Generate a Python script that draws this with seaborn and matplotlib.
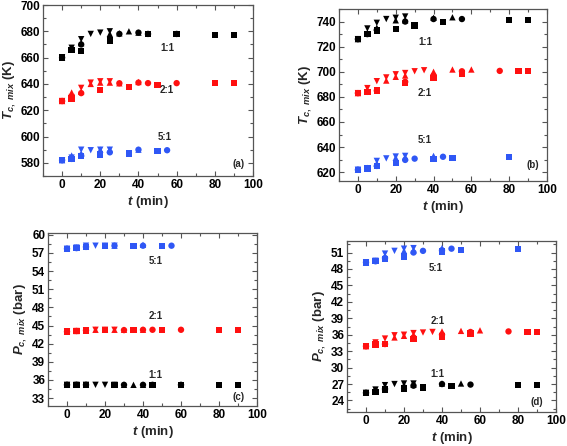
"""
plot.py
-------
Critical temperature / pressure of the mixture vs. time for three ratios.
Four panels (a)-(d), four runs per ratio drawn with different markers.
"""

import pandas as pd
import matplotlib.pyplot as plt
import matplotlib.ticker as mticker
import seaborn as sns

sns.set_theme(style="ticks")
plt.rcParams.update({
    "font.family": ["Liberation Sans", "DejaVu Sans"],
    "font.weight": "bold",
    "font.size": 7.5,
    "mathtext.fontset": "custom",
    "mathtext.it": "Liberation Sans:italic:bold",
    "mathtext.rm": "Liberation Sans:bold",
    "mathtext.bf": "Liberation Sans:bold",
})

RATIOS = ["1:1", "2:1", "5:1"]
RATIO_COLORS = {"1:1": "black", "2:1": "#ff1010", "5:1": "#2f57f5"}
RUN_MARKERS = {"sq": "s", "ci": "o", "up": "^", "dn": "v"}

# ─── Panel (a): Tc,mix (K) ────────────────────────────────────────────────────
a11_sq = [(0, 660), (5, 666), (10, 665), (25, 673), (45, 678), (60, 678), (80, 677.3), (90, 677.3)]
a11_ci = [(0, 660), (5, 666), (10, 670), (30, 678), (40, 679), (45, 678), (60, 678)]
a11_up = [(0, 660), (5, 667), (10, 671), (25, 678), (30, 678.5), (35, 680), (40, 679)]
a11_dn = [(0, 660), (5, 667.5), (10, 674), (15, 678), (20, 679), (25, 680)]
a21_sq = [(0, 627), (5, 629), (20, 635.6), (35, 637.6), (50, 639), (80, 640.6), (90, 640.6)]
a21_ci = [(0, 627), (5, 629), (10, 633), (30, 640.5), (40, 641), (45, 640.6), (60, 640.6)]
a21_up = [(0, 627), (5, 633.5), (10, 634), (15, 640), (20, 641), (25, 641), (30, 640.5), (40, 641.5)]
a21_dn = [(0, 627), (5, 630), (10, 637), (15, 641), (20, 642), (25, 642)]
a51_sq = [(0, 582), (5, 583), (10, 585), (20, 586.3), (35, 587), (50, 589)]
a51_ci = [(0, 582), (5, 583), (10, 585.5), (25, 588), (40, 590), (55, 589.6)]
a51_up = [(0, 582), (5, 585.6), (10, 587), (20, 590), (25, 590), (40, 590)]
a51_dn = [(0, 582), (5, 584), (10, 590), (15, 589.6), (20, 590), (25, 590)]

# ─── Panel (b): Tc,mix (K) ────────────────────────────────────────────────────
b11_sq = [(0, 726), (5, 730), (10, 733), (20, 734), (30, 737), (45, 739.5), (80, 741), (90, 741)]
b11_ci = [(0, 726), (5, 730), (10, 733.4), (25, 740), (40, 742), (55, 742)]
b11_up = [(0, 726), (5, 731), (10, 735), (20, 741), (25, 741), (40, 743), (50, 743.4)]
b11_dn = [(0, 726), (5, 734.5), (10, 739), (15, 742), (20, 743), (25, 744)]
b21_sq = [(0, 683), (5, 684), (10, 685), (25, 691), (40, 695), (55, 698.6), (85, 700.4), (90, 700.4)]
b21_ci = [(0, 683), (5, 684), (10, 685), (25, 692), (40, 697), (55, 700.4), (75, 700.7)]
b21_up = [(0, 683), (5, 685), (15, 693), (20, 696), (25, 697), (40, 700), (50, 701.8), (60, 701.8)]
b21_dn = [(0, 683), (5, 687), (10, 692.5), (15, 695.5), (20, 698), (25, 699), (30, 700.4), (35, 701.2)]
b51_sq = [(0, 622), (5, 623), (10, 625), (20, 627.4), (40, 630.5), (50, 631.5), (80, 632)]
b51_ci = [(0, 622), (5, 623), (10, 625), (25, 629.8), (30, 630.8), (45, 632.3)]
b51_up = [(0, 622), (5, 623.5), (10, 627), (20, 631.5), (25, 632), (40, 633)]
b51_dn = [(0, 622), (5, 623), (10, 629), (15, 631), (20, 632.5), (25, 633)]

# ─── Panel (c): Pc,mix (bar) ──────────────────────────────────────────────────
c11_sq = [(0, 35.2), (5, 35.2), (10, 35.2), (25, 35.2), (45, 35.2), (60, 35.2), (80, 35.2), (90, 35.2)]
c11_ci = [(0, 35.2), (5, 35.2), (10, 35.2), (30, 35.2), (40, 35.2), (45, 35.2), (60, 35.2)]
c11_up = [(0, 35.2), (5, 35.2), (10, 35.2), (25, 35.2), (30, 35.2), (35, 35.2), (40, 35.2)]
c11_dn = [(0, 35.2), (5, 35.2), (10, 35.2), (15, 35.2), (20, 35.2), (25, 35.2)]
c21_sq = [(0, 44.0), (5, 44.1), (10, 44.2), (20, 44.25), (35, 44.25), (50, 44.3), (80, 44.3), (90, 44.3)]
c21_ci = [(0, 44.0), (5, 44.1), (10, 44.2), (30, 44.25), (40, 44.3), (45, 44.3), (60, 44.3)]
c21_up = [(0, 44.0), (5, 44.1), (10, 44.2), (15, 44.3), (20, 44.3), (25, 44.3), (30, 44.3), (40, 44.3)]
c21_dn = [(0, 44.0), (5, 44.1), (10, 44.2), (15, 44.3), (20, 44.3), (25, 44.3)]
c51_sq = [(0, 57.7), (5, 57.8), (10, 58.0), (20, 58.1), (35, 58.1), (50, 58.2)]
c51_ci = [(0, 57.7), (5, 57.8), (10, 58.0), (25, 58.2), (40, 58.2), (55, 58.2)]
c51_up = [(0, 57.7), (5, 57.9), (10, 58.1), (20, 58.2), (25, 58.2), (40, 58.35)]
c51_dn = [(0, 57.7), (5, 57.9), (10, 58.2), (15, 58.2), (20, 58.2), (25, 58.2)]

# ─── Panel (d): Pc,mix (bar) ──────────────────────────────────────────────────
d11_sq = [(0, 25.4), (5, 25.6), (10, 26.0), (20, 26.2), (30, 26.4), (45, 26.7), (80, 26.8), (90, 26.8)]
d11_ci = [(0, 25.4), (5, 25.7), (10, 26.1), (25, 26.7), (40, 27.0), (55, 26.9)]
d11_up = [(0, 25.4), (5, 25.8), (10, 26.4), (20, 26.8), (25, 26.9), (40, 27.1), (50, 27.1)]
d11_dn = [(0, 25.4), (5, 26.0), (10, 26.8), (15, 27.0), (20, 27.1), (25, 27.1)]
d21_sq = [(0, 33.9), (5, 34.2), (10, 34.3), (25, 35.2), (40, 35.7), (55, 36.2), (85, 36.5), (90, 36.5)]
d21_ci = [(0, 33.9), (5, 34.2), (10, 34.3), (25, 35.5), (40, 36.0), (55, 36.5), (75, 36.6)]
d21_up = [(0, 33.9), (5, 34.4), (15, 35.5), (20, 35.8), (25, 35.9), (40, 36.6), (50, 36.7), (60, 36.8)]
d21_dn = [(0, 33.9), (5, 34.6), (10, 35.3), (15, 35.9), (20, 36.0), (25, 36.3), (30, 36.4), (35, 36.5)]
d51_sq = [(0, 49.2), (5, 49.4), (10, 49.8), (20, 50.3), (40, 51.2), (50, 51.4), (80, 51.6)]
d51_ci = [(0, 49.2), (5, 49.4), (10, 50.0), (25, 51.0), (30, 51.3), (40, 51.4), (45, 51.7)]
d51_up = [(0, 49.2), (5, 49.5), (10, 50.3), (20, 51.3), (25, 51.4), (40, 51.8)]
d51_dn = [(0, 49.2), (5, 49.5), (10, 50.8), (15, 51.3), (20, 51.7), (25, 51.8)]

# ratio labels placed in data coordinates (t, value)
a_labels = {"1:1": (55, 667.5), "2:1": (55, 635.5), "5:1": (53.5, 600)}
b_labels = {"1:1": (35.5, 724), "2:1": (35.5, 683), "5:1": (35.5, 646)}
c_labels = {"5:1": (46.5, 55.6), "2:1": (46.5, 46.6), "1:1": (46.5, 36.9)}
d_labels = {"5:1": (36.5, 48.2), "2:1": (37.5, 38.5), "1:1": (37.5, 28.8)}

series = {
    "a": [a11_sq, a11_ci, a11_up, a11_dn, a21_sq, a21_ci, a21_up, a21_dn, a51_sq, a51_ci, a51_up, a51_dn],
    "b": [b11_sq, b11_ci, b11_up, b11_dn, b21_sq, b21_ci, b21_up, b21_dn, b51_sq, b51_ci, b51_up, b51_dn],
    "c": [c11_sq, c11_ci, c11_up, c11_dn, c21_sq, c21_ci, c21_up, c21_dn, c51_sq, c51_ci, c51_up, c51_dn],
    "d": [d11_sq, d11_ci, d11_up, d11_dn, d21_sq, d21_ci, d21_up, d21_dn, d51_sq, d51_ci, d51_up, d51_dn],
}


def build_frame(panel):
    rows = []
    runs = list(RUN_MARKERS)
    for i, pts in enumerate(series[panel]):
        ratio = RATIOS[i // 4]
        run = runs[i % 4]
        for t, v in pts:
            rows.append({"t": t, "val": v, "ratio": ratio, "run": run})
    return pd.DataFrame(rows)


W, H = 567, 446
fig = plt.figure(figsize=(W / 100, H / 100), dpi=100)


def add_axes(left, top, right, bottom):
    return fig.add_axes([left / W, 1 - bottom / H, (right - left) / W, (bottom - top) / H])


panels = {
    "a": dict(box=(43, 5, 253, 176), ylim=(570, 700), major=20, minor=10,
              ylabel=r"$T_{c,\ mix}$ (K)", labels=a_labels, tag=(92.5, 579.5)),
    "b": dict(box=(339, 9, 547, 181), ylim=(613, 750), major=20, minor=10,
              ylabel=r"$T_{c,\ mix}$ (K)", labels=b_labels, tag=(92.5, 625.5)),
    "c": dict(box=(48, 233, 257, 406), ylim=(31.7, 60.3), major=3, minor=1.5,
              ylabel=r"$P_{c,\ mix}$ (bar)", labels=c_labels, tag=(90.5, 33.2)),
    "d": dict(box=(347, 241, 556, 412), ylim=(21.9, 53.1), major=3, minor=1.5,
              ylabel=r"$P_{c,\ mix}$ (bar)", labels=d_labels, tag=(90, 23.7)),
}

for name, cfg in panels.items():
    ax = add_axes(*cfg["box"])
    df = build_frame(name)
    sns.scatterplot(data=df, x="t", y="val", hue="ratio", style="run",
                    palette=RATIO_COLORS, markers=RUN_MARKERS, s=21,
                    linewidth=0, legend=False, ax=ax)

    ax.set_xlim(-10, 100)
    ax.set_ylim(*cfg["ylim"])
    ax.xaxis.set_major_locator(mticker.MultipleLocator(20))
    ax.xaxis.set_minor_locator(mticker.MultipleLocator(10))
    ax.yaxis.set_major_locator(mticker.MultipleLocator(cfg["major"]))
    ax.yaxis.set_minor_locator(mticker.MultipleLocator(cfg["minor"]))
    ax.tick_params(which="both", direction="in", top=True, right=True,
                   colors="#555555", labelcolor="black", labelsize=8.5, pad=2)
    ax.tick_params(which="major", length=3.5, width=0.8)
    ax.tick_params(which="minor", length=2, width=0.8)
    for lab in ax.get_xticklabels() + ax.get_yticklabels():
        lab.set_fontweight("bold")
    for sp in ax.spines.values():
        sp.set_color("#555555")
        sp.set_linewidth(0.9)

    ax.set_xlabel(r"$t$ (min)", fontsize=9.5, fontweight="bold", labelpad=2)
    ax.set_ylabel(cfg["ylabel"], fontsize=9.5, fontweight="bold", labelpad=2)

    for ratio, (tx, ty) in cfg["labels"].items():
        ax.text(tx, ty, ratio, fontsize=7, fontweight="bold", ha="center", va="center")
    ax.text(cfg["tag"][0], cfg["tag"][1], f"({name})", fontsize=7,
            fontweight="bold", ha="center", va="center")

fig.savefig("out.png", dpi=100)
